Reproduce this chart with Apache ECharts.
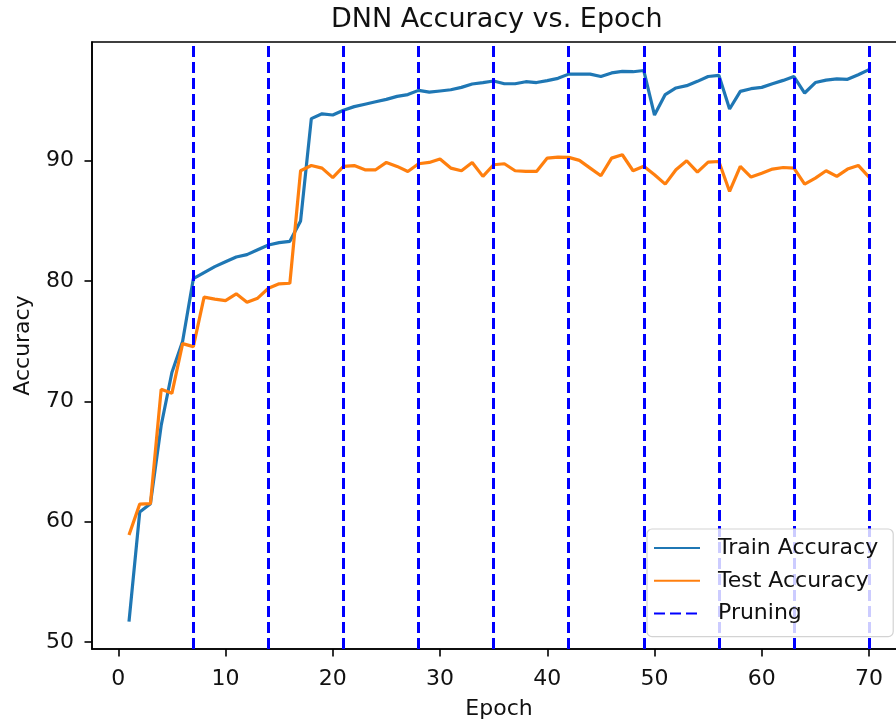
<!DOCTYPE html>
<html>
<head>
<meta charset="utf-8">
<title>DNN Accuracy vs. Epoch</title>
<script src="https://cdn.jsdelivr.net/npm/echarts@6/dist/echarts.min.js"></script>
<style>
  html, body { margin: 0; padding: 0; background: #fff; }
  #chart { width: 896px; height: 725px; }
</style>
</head>
<body>
<div id="chart"></div>
<script>
// Epoch numbers (x values)
const epochs = [
  1, 2, 3, 4, 5, 6, 7, 8, 9, 10,
  11, 12, 13, 14, 15, 16, 17, 18, 19, 20,
  21, 22, 23, 24, 25, 26, 27, 28, 29, 30,
  31, 32, 33, 34, 35, 36, 37, 38, 39, 40,
  41, 42, 43, 44, 45, 46, 47, 48, 49, 50,
  51, 52, 53, 54, 55, 56, 57, 58, 59, 60,
  61, 62, 63, 64, 65, 66, 67, 68, 69, 70
];

// Training accuracy per epoch (%)
const trainAccuracy = [
  51.7, 60.8, 61.5, 68.0, 72.4, 75.0, 80.2, 80.7, 81.2, 81.6,
  82.0, 82.2, 82.6, 83.0, 83.2, 83.3, 85.0, 93.5, 93.9, 93.8,
  94.2, 94.5, 94.7, 94.9, 95.1, 95.35, 95.5, 95.85, 95.7, 95.8,
  95.9, 96.1, 96.38, 96.5, 96.63, 96.4, 96.4, 96.57, 96.5, 96.66,
  96.85, 97.2, 97.2, 97.2, 97.0, 97.3, 97.43, 97.4, 97.5, 93.8,
  95.5, 96.05, 96.24, 96.6, 97.0, 97.1, 94.3, 95.77, 95.99, 96.1,
  96.4, 96.68, 97.0, 95.63, 96.5, 96.7, 96.8, 96.77, 97.15, 97.57
];

// Test accuracy per epoch (%)
const testAccuracy = [
  58.9, 61.46, 61.5, 71.0, 70.67, 74.8, 74.55, 78.66, 78.5, 78.38,
  78.94, 78.24, 78.58, 79.4, 79.77, 79.82, 89.17, 89.6, 89.39, 88.6,
  89.53, 89.6, 89.25, 89.25, 89.86, 89.53, 89.11, 89.75, 89.86, 90.14,
  89.39, 89.17, 89.86, 88.7, 89.67, 89.75, 89.17, 89.11, 89.11, 90.22,
  90.3, 90.28, 90.03, 89.39, 88.75, 90.22, 90.5, 89.17, 89.55, 88.84,
  88.06, 89.25, 90.0, 89.06, 89.89, 89.94, 87.45, 89.53, 88.64, 88.97,
  89.31, 89.44, 89.39, 88.06, 88.56, 89.17, 88.7, 89.31, 89.61, 88.64
];

// Epochs at which the network was pruned
const pruningEpochs = [7, 14, 21, 28, 35, 42, 49, 56, 63, 70];

// Tick labels
const xTicks = [0, 10, 20, 30, 40, 50, 60, 70];
const yTicks = [50, 60, 70, 80, 90];

const FONT = 'DejaVu Sans';
const INK = '#111';
const DASH = [11, 5];

const pairs = (ys) => epochs.map((e, i) => [e, ys[i]]);

const chart = echarts.init(document.getElementById('chart'), null, { renderer: 'canvas' });

chart.setOption({
  animation: false,
  backgroundColor: '#ffffff',
  textStyle: { fontFamily: FONT },
  title: {
    text: 'DNN Accuracy vs. Epoch',
    left: 331,
    top: 6,
    padding: 0,
    textStyle: { fontFamily: FONT, fontSize: 27, fontWeight: 'normal', color: INK }
  },
  grid: {
    left: 92,
    top: 42,
    width: 814,
    height: 607,
    outerBoundsMode: 'none',
    containLabel: false,
    show: true,
    borderColor: '#000',
    borderWidth: 1.6,
    backgroundColor: 'transparent'
  },
  legend: {
    orient: 'vertical',
    left: 647,
    top: 529,
    z: 20,
    zlevel: 0,
    padding: [8, 15, 12, 6],
    itemWidth: 46,
    itemHeight: 14,
    itemGap: 10.8,
    backgroundColor: 'rgba(255,255,255,0.8)',
    borderColor: '#d3d3d3',
    borderWidth: 1.2,
    borderRadius: 5,
    itemStyle: { opacity: 0 },
    textStyle: { fontFamily: FONT, fontSize: 22, color: INK, padding: [0, 0, 0, 13] },
    data: ['Train Accuracy', 'Test Accuracy', 'Pruning']
  },
  xAxis: {
    type: 'value',
    min: -2.45,
    max: 73.45,
    name: 'Epoch',
    nameLocation: 'middle',
    nameGap: 49,
    nameTextStyle: { fontFamily: FONT, fontSize: 22, color: INK },
    axisLine: { show: true, onZero: false, lineStyle: { color: '#000', width: 1.6 } },
    axisTick: {
      show: true, inside: false, length: 7.5,
      customValues: xTicks,
      lineStyle: { color: '#000', width: 1.6 }
    },
    axisLabel: {
      show: true, margin: 19,
      customValues: xTicks,
      fontFamily: FONT, fontSize: 22, color: INK
    },
    splitLine: { show: false }
  },
  yAxis: {
    type: 'value',
    min: 49.42,
    max: 99.87,
    name: 'Accuracy',
    nameLocation: 'middle',
    nameGap: 58,
    nameTextStyle: { fontFamily: FONT, fontSize: 22, color: INK },
    axisLine: { show: true, onZero: false, lineStyle: { color: '#000', width: 1.6 } },
    axisTick: {
      show: true, inside: false, length: 7.5,
      customValues: yTicks,
      lineStyle: { color: '#000', width: 1.6 }
    },
    axisLabel: {
      show: true, margin: 18,
      customValues: yTicks,
      fontFamily: FONT, fontSize: 22, color: INK
    },
    splitLine: { show: false }
  },
  series: [
    {
      name: 'Train Accuracy',
      type: 'line',
      data: pairs(trainAccuracy),
      symbol: 'none',
      showSymbol: false,
      lineStyle: { color: '#1f77b4', width: 3.2 },
      itemStyle: { color: '#1f77b4' },
      z: 2
    },
    {
      name: 'Test Accuracy',
      type: 'line',
      data: pairs(testAccuracy),
      symbol: 'none',
      showSymbol: false,
      lineStyle: { color: '#ff7f0e', width: 3.2 },
      itemStyle: { color: '#ff7f0e' },
      z: 3
    },
    {
      name: 'Pruning',
      type: 'line',
      data: [],
      symbol: 'none',
      lineStyle: { color: '#0000ff', width: 3.0, type: DASH },
      itemStyle: { color: '#0000ff' },
      z: 4,
      markLine: {
        silent: true,
        symbol: ['none', 'none'],
        label: { show: false },
        lineStyle: { color: '#0000ff', width: 3.0, type: DASH },
        emphasis: { disabled: true },
        data: pruningEpochs.map((e) => ({ xAxis: e }))
      }
    }
  ]
});
</script>
</body>
</html>
